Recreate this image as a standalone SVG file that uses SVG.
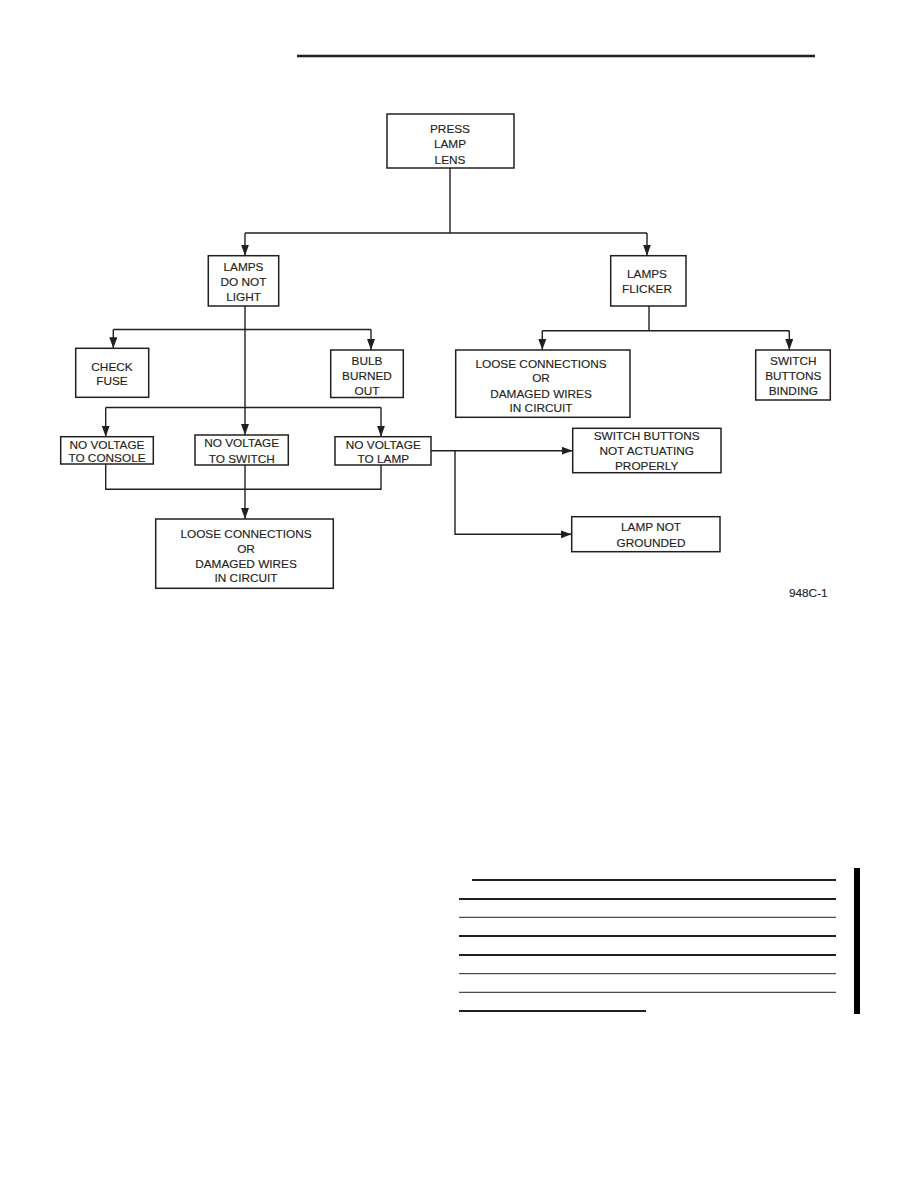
<svg xmlns="http://www.w3.org/2000/svg" width="918" height="1188" viewBox="0 0 918 1188">
<style>
.box{fill:#fff;stroke:#231f20;stroke-width:1.5}
.t{font-family:"Liberation Sans",Arial,sans-serif;font-size:11.8px;fill:#231f20;text-anchor:middle;stroke:#231f20;stroke-width:0.15}
.c{fill:none;stroke:#231f20;stroke-width:1.4}
.a{marker-end:url(#arr)}
.rule{stroke:#231f20}
</style>
<defs>
<marker id="arr" markerUnits="userSpaceOnUse" markerWidth="12" markerHeight="9" refX="11" refY="4" orient="auto">
<path d="M0,0 L11,4 L0,8 z" fill="#231f20"/>
</marker>
</defs>
<rect width="918" height="1188" fill="#fff"/>
<g id="page-rules">
<line class="rule" x1="297" y1="56" x2="815" y2="56" stroke-width="2.5"/>
<line class="rule" x1="472" y1="880" x2="836" y2="880" stroke-width="2"/>
<line class="rule" x1="459" y1="899" x2="836" y2="899" stroke-width="2"/>
<line class="rule" x1="459" y1="917.3" x2="836" y2="917.3" stroke-width="1"/>
<line class="rule" x1="459" y1="936" x2="836" y2="936" stroke-width="2"/>
<line class="rule" x1="459" y1="955" x2="836" y2="955" stroke-width="2"/>
<line class="rule" x1="459" y1="973.7" x2="836" y2="973.7" stroke-width="1"/>
<line class="rule" x1="459" y1="992.3" x2="836" y2="992.3" stroke-width="1"/>
<line class="rule" x1="459" y1="1011" x2="646" y2="1011" stroke-width="2"/>
<rect x="854" y="868" width="6" height="146" fill="#000"/>
</g>
<g id="connectors">
<path class="c" d="M450,168 V233"/>
<path class="c" d="M245,233 H647"/>
<path class="c a" d="M245,233 V255.7"/>
<path class="c a" d="M647,233 V255.7"/>
<path class="c a" d="M245,306 V435"/>
<path class="c" d="M113.3,329.5 H371"/>
<path class="c a" d="M113.3,329.5 V348.3"/>
<path class="c a" d="M371,329.5 V350"/>
<path class="c" d="M105.7,407.5 H381"/>
<path class="c a" d="M105.7,407.5 V436.7"/>
<path class="c a" d="M381,407.5 V436.7"/>
<path class="c" d="M649,306 V330.7"/>
<path class="c" d="M542.3,330.7 H789.3"/>
<path class="c a" d="M542.3,330.7 V350"/>
<path class="c a" d="M789.3,330.7 V350"/>
<path class="c" d="M105.7,464 V489.3 H381 V465"/>
<path class="c a" d="M245,465 V519"/>
<path class="c a" d="M431,450.7 H572.7"/>
<path class="c a" d="M455,450.7 V534.3 H571.7"/>
</g>
<g id="press-lamp-lens">
<rect class="box" x="387" y="114" width="127" height="54"/>
<text class="t" x="450" y="132.5">PRESS</text>
<text class="t" x="450" y="148.3">LAMP</text>
<text class="t" x="450" y="163.5">LENS</text>
</g>
<g id="lamps-do-not-light">
<rect class="box" x="208.3" y="255.7" width="70.4" height="50.3"/>
<text class="t" x="243.5" y="271">LAMPS</text>
<text class="t" x="243.5" y="286.3">DO NOT</text>
<text class="t" x="243.5" y="301">LIGHT</text>
</g>
<g id="lamps-flicker">
<rect class="box" x="610.7" y="255.7" width="75.3" height="50.3"/>
<text class="t" x="647" y="277.5">LAMPS</text>
<text class="t" x="647" y="292.5">FLICKER</text>
</g>
<g id="check-fuse">
<rect class="box" x="75.7" y="348.3" width="73" height="49"/>
<text class="t" x="112" y="370.5">CHECK</text>
<text class="t" x="112" y="385">FUSE</text>
</g>
<g id="bulb-burned-out">
<rect class="box" x="330.7" y="350" width="72.6" height="47.5"/>
<text class="t" x="367" y="365.2">BULB</text>
<text class="t" x="367" y="379.8">BURNED</text>
<text class="t" x="367" y="394.5">OUT</text>
</g>
<g id="loose-connections-flicker">
<rect class="box" x="455.7" y="350" width="174.3" height="67.3"/>
<text class="t" x="541" y="367.6">LOOSE CONNECTIONS</text>
<text class="t" x="541" y="381.6">OR</text>
<text class="t" x="541" y="397.6">DAMAGED WIRES</text>
<text class="t" x="541" y="411.6">IN CIRCUIT</text>
</g>
<g id="switch-buttons-binding">
<rect class="box" x="755.7" y="350" width="74.6" height="50"/>
<text class="t" x="793.3" y="365">SWITCH</text>
<text class="t" x="793.3" y="380.3">BUTTONS</text>
<text class="t" x="793.3" y="395">BINDING</text>
</g>
<g id="no-voltage-console">
<rect class="box" x="60.7" y="436.7" width="92.6" height="27.3"/>
<text class="t" x="107" y="448.6">NO VOLTAGE</text>
<text class="t" x="107" y="462.4">TO CONSOLE</text>
</g>
<g id="no-voltage-switch">
<rect class="box" x="195" y="435" width="93.3" height="30"/>
<text class="t" x="241.7" y="447">NO VOLTAGE</text>
<text class="t" x="241.7" y="462.6">TO SWITCH</text>
</g>
<g id="no-voltage-lamp">
<rect class="box" x="335" y="436.7" width="96" height="28.3"/>
<text class="t" x="383.3" y="448.6">NO VOLTAGE</text>
<text class="t" x="383.3" y="463.4">TO LAMP</text>
</g>
<g id="switch-buttons-not-actuating">
<rect class="box" x="572.7" y="428.3" width="148.3" height="44.4"/>
<text class="t" x="646.7" y="440.3">SWITCH BUTTONS</text>
<text class="t" x="646.7" y="455.3">NOT ACTUATING</text>
<text class="t" x="646.7" y="470.3">PROPERLY</text>
</g>
<g id="lamp-not-grounded">
<rect class="box" x="571.7" y="516.7" width="148.3" height="35"/>
<text class="t" x="651" y="531">LAMP NOT</text>
<text class="t" x="651" y="546.6">GROUNDED</text>
</g>
<g id="loose-connections-bottom">
<rect class="box" x="155.7" y="519" width="177.6" height="69.3"/>
<text class="t" x="246" y="537.6">LOOSE CONNECTIONS</text>
<text class="t" x="246" y="552.6">OR</text>
<text class="t" x="246" y="567.6">DAMAGED WIRES</text>
<text class="t" x="246" y="582">IN CIRCUIT</text>
</g>
<text class="t" x="808.3" y="596.6">948C-1</text>
</svg>
